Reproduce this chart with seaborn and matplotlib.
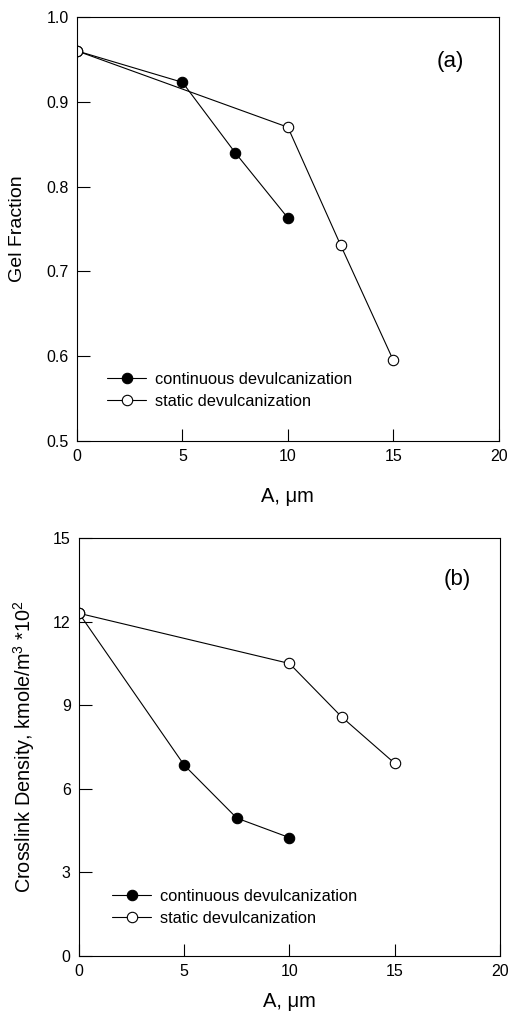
import matplotlib
matplotlib.use("Agg")
import matplotlib.pyplot as plt
import seaborn as sns
import pandas as pd

sns.set_theme(style="white")
plt.rcParams['font.family'] = ['Liberation Sans', 'DejaVu Sans']
plt.rcParams['mathtext.fontset'] = 'custom'
plt.rcParams['mathtext.rm'] = 'Liberation Sans'
plt.rcParams['mathtext.it'] = 'Liberation Sans:italic'

# Data
cont_x = [0, 5, 7.5, 10]
cont_gel = [0.96, 0.923, 0.840, 0.763]
cont_xl = [12.3, 6.85, 4.95, 4.25]
stat_x = [0, 10, 12.5, 15]
stat_gel = [0.96, 0.870, 0.731, 0.595]
stat_xl = [12.3, 10.5, 8.57, 6.92]
x_ticks = [0, 5, 10, 15, 20]
gel_ticks = [0.5, 0.6, 0.7, 0.8, 0.9, 1.0]
xl_ticks = [0, 3, 6, 9, 12, 15]
labels = ["continuous devulcanization", "static devulcanization"]

fig = plt.figure(figsize=(5.10, 10.31), dpi=100)
ax1 = fig.add_axes([0.151, 0.5723, 0.827, 0.4112])
ax2 = fig.add_axes([0.155, 0.0727, 0.825, 0.4054])

def draw(ax, yc, ys, yticks, ylim, fmt):
    dc = pd.DataFrame({"x": cont_x, "y": yc})
    ds = pd.DataFrame({"x": stat_x, "y": ys})
    sns.lineplot(data=dc, x="x", y="y", ax=ax, color="black", lw=0.8,
                 marker="o", markersize=7.5, markerfacecolor="black",
                 markeredgecolor="black", markeredgewidth=0.8, label=labels[0], sort=False)
    sns.lineplot(data=ds, x="x", y="y", ax=ax, color="black", lw=0.8,
                 marker="o", markersize=7.5, markerfacecolor="white",
                 markeredgecolor="black", markeredgewidth=0.8, label=labels[1], sort=False)
    ax.set_xlim(0, 20)
    ax.set_ylim(*ylim)
    ax.set_xticks(x_ticks)
    ax.set_xticklabels([str(t) for t in x_ticks])
    ax.set_yticks(yticks)
    ax.set_yticklabels([fmt.format(t) for t in yticks])
    ax.tick_params(axis="both", direction="in", length=9, width=0.8,
                   labelsize=11.5, pad=6, colors="black", bottom=True, left=True)
    for s in ax.spines.values():
        s.set_visible(True)
        s.set_color("black")
        s.set_linewidth(0.8)
    ax.set_facecolor("white")

draw(ax1, cont_gel, stat_gel, gel_ticks, (0.5, 1.0), "{:.1f}")
draw(ax2, cont_xl, stat_xl, xl_ticks, (0, 15), "{:d}")

ax1.set_xlabel("A, μm", fontsize=14.5, color="black")
ax1.set_ylabel("Gel Fraction", fontsize=14, color="black")
ax1.xaxis.set_label_coords(0.5, -0.108)
ax1.yaxis.set_label_coords(-0.122, 0.5)
ax2.set_xlabel("A, μm", fontsize=14.5, color="black")
ax2.set_ylabel(r"Crosslink Density, kmole/m$^3$ *10$^2$", fontsize=14.3, color="black")
ax2.xaxis.set_label_coords(0.5, -0.087)
ax2.yaxis.set_label_coords(-0.100, 0.5)

ax1.text(0.884, 0.894, "(a)", transform=ax1.transAxes, fontsize=16,
         ha="center", va="center", color="black")
ax2.text(0.898, 0.9, "(b)", transform=ax2.transAxes, fontsize=16,
         ha="center", va="center", color="black")

for ax, anchor in ((ax1, (0.071, 0.163)), (ax2, (0.078, 0.161))):
    leg = ax.legend(loc="upper left", bbox_to_anchor=anchor, frameon=False,
                    fontsize=11.8, borderpad=0, handlelength=2.4,
                    handletextpad=0.55, labelspacing=0.42, borderaxespad=0)
    for t in leg.get_texts():
        t.set_color("black")

fig.savefig("out.png", dpi=100, facecolor="white")
